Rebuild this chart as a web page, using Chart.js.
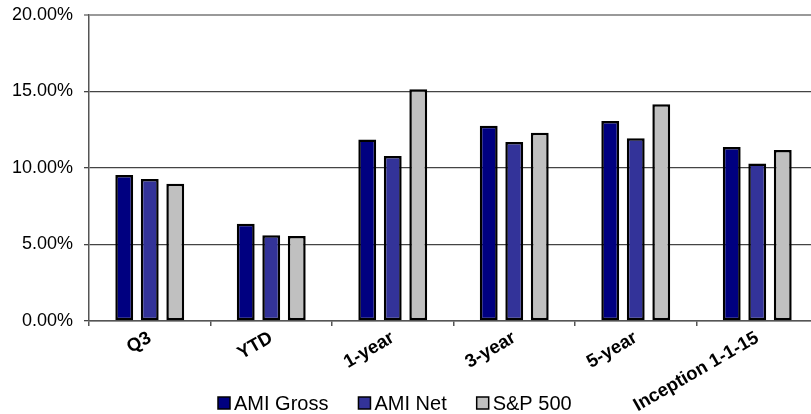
<!DOCTYPE html>
<html>
<head>
<meta charset="utf-8">
<script src="https://cdn.jsdelivr.net/npm/chart.js@4/dist/chart.umd.min.js"></script>
<style>
  html, body { margin: 0; padding: 0; background: #fff; overflow: hidden; width: 811px; height: 414px; }
  #wrap { position: absolute; left: 0; top: 0; width: 818px; height: 414px; }
</style>
</head>
<body>
<div id="wrap"><canvas id="c"></canvas></div>
<script>
const categories = ['Q3', 'YTD', '1-year', '3-year', '5-year', 'Inception 1-1-15'];
const amiGross = [9.55, 6.35, 11.87, 12.76, 13.07, 11.37];
const amiNet = [9.28, 5.6, 10.78, 11.7, 11.94, 10.3];
const sp500 = [8.97, 5.55, 15.14, 12.3, 14.16, 11.17];
const seriesNames = ['AMI Gross', 'AMI Net', 'S&P 500'];
const yTicks = [0, 5, 10, 15, 20];

const FONT = "'Liberation Sans', Arial, sans-serif";

const legendPlugin = {
  id: 'customLegend',
  afterDraw(chart) {
    const ctx = chart.ctx;
    ctx.save();
    ctx.font = '20px ' + FONT;
    ctx.textBaseline = 'middle';
    let x = 218;
    const yc = 403;
    chart.data.datasets.forEach(ds => {
      ctx.fillStyle = ds.backgroundColor;
      ctx.fillRect(x, yc - 6, 12, 12);
      ctx.lineWidth = 1.5;
      ctx.strokeStyle = '#000';
      ctx.strokeRect(x, yc - 6, 12, 12);
      ctx.fillStyle = '#000';
      ctx.fillText(ds.label, x + 16, yc + 1);
      x += 16 + ctx.measureText(ds.label).width + 30;
    });
    ctx.restore();
  }
};

new Chart(document.getElementById('c'), {
  type: 'bar',
  data: {
    labels: categories,
    datasets: [
      { label: seriesNames[0], data: amiGross, backgroundColor: '#000080' },
      { label: seriesNames[1], data: amiNet, backgroundColor: '#333399' },
      { label: seriesNames[2], data: sp500, backgroundColor: '#C0C0C0' }
    ].map(d => Object.assign(d, {
      borderColor: '#000', borderWidth: 2.5, borderSkipped: false,
      barPercentage: 0.7, categoryPercentage: 0.63
    }))
  },
  options: {
    responsive: true,
    maintainAspectRatio: false,
    animation: false,
    layout: { padding: { top: 15, right: 0, left: 0, bottom: 0 } },
    plugins: { legend: { display: false }, tooltip: { enabled: false } },
    scales: {
      x: {
        afterFit(s) { s.height = 93; s.paddingLeft = 0; s.paddingRight = 0; },
        grid: { display: true, drawOnChartArea: false, drawTicks: true, tickLength: 5, color: '#555', lineWidth: 1.5, offset: true },
        border: { display: true, color: '#555', width: 1.5 },
        ticks: { font: { family: FONT, size: 18.5, weight: 'bold' }, color: '#000', maxRotation: 30, minRotation: 30, padding: 1, autoSkip: false }
      },
      y: {
        min: 0, max: 20,
        afterFit(s) { s.width = 89; s.paddingTop = 0; s.paddingBottom = 0; },
        afterBuildTicks(s) { s.ticks = yTicks.map(v => ({ value: v })); },
        grid: {
          tickLength: 5,
          color: c => (c.tick && c.tick.value === 20) ? '#999' : '#444',
          lineWidth: c => (c.tick && c.tick.value === 20) ? 2 : 1.3
        },
        border: { display: true, color: '#555', width: 1.5 },
        ticks: { font: { family: FONT, size: 18 }, color: '#000', padding: 11, callback: v => v.toFixed(2) + '%' }
      }
    }
  },
  plugins: [legendPlugin]
});
</script>
</body>
</html>
